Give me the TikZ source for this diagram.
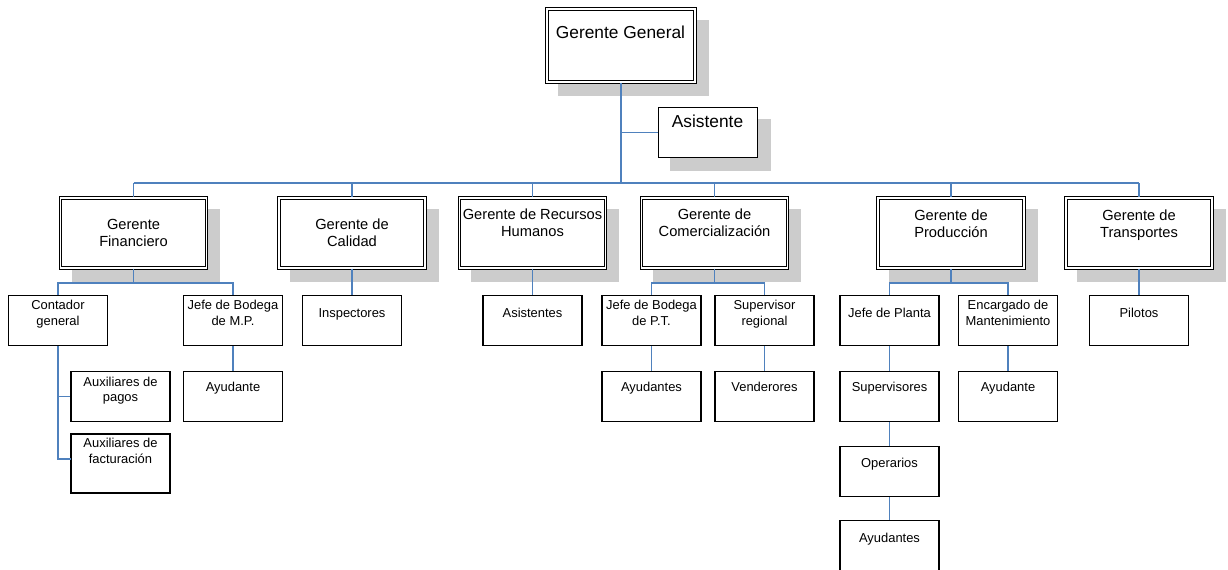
\documentclass[tikz,border=0pt]{standalone}
\usepackage{fontspec}
\setmainfont{Liberation Sans}
\usetikzlibrary{calc,backgrounds}
\definecolor{conn}{RGB}{79,129,189}
\definecolor{shad}{RGB}{204,204,204}
\begin{document}
\begin{tikzpicture}[x=0.75pt,y=-0.75pt,
  dbl/.style={draw, fill=white, line width=0.8pt, double=white, double distance=1.2pt, inner sep=0pt},
  mgr/.style={dbl, minimum width=109.5pt, minimum height=52.7pt},
  box/.style={draw, fill=white, line width=0.85pt, inner sep=0pt, minimum width=74.25pt, minimum height=37.5pt},
  lnk/.style={draw=conn, line width=1pt},
  tm/.style={font=\fontsize{11}{12.75}\selectfont, align=center, inner sep=0pt, anchor=north},
  ts/.style={font=\fontsize{9.7}{12}\selectfont, align=center, inner sep=0pt, anchor=north},
  tg/.style={font=\fontsize{13}{15}\selectfont, inner sep=0pt, anchor=north}]
\useasboundingbox (0,0) rectangle (1228,569);

% top
\node[dbl, minimum width=111.2pt, minimum height=55pt] (gg) at (621,45.5) {};
\node[box] (as) at (708,132.5) {};
% managers
\node[mgr] (gf) at (133.5,233) {};
\node[mgr] (gc) at (352,233) {};
\node[mgr] (grh) at (532.5,233) {};
\node[mgr] (gcom) at (714.5,233) {};
\node[mgr] (gp) at (951,233) {};
\node[mgr] (gt) at (1139,233) {};
% level 3
\node[box] (cont) at (58,320.5) {};
\node[box] (jmp) at (233,320.5) {};
\node[box] (insp) at (352,320.5) {};
\node[box] (asis) at (532.5,320.5) {};
\node[box] (jpt) at (651.5,320.5) {};
\node[box] (supreg) at (764.5,320.5) {};
\node[box] (jpl) at (889.5,320.5) {};
\node[box] (enc) at (1008,320.5) {};
\node[box] (pil) at (1139,320.5) {};
% level 4
\node[box] (auxp) at (120.5,396.5) {};
\node[box] (ayu1) at (233,396.5) {};
\node[box] (ayu2) at (651.5,396.5) {};
\node[box] (vend) at (764.5,396.5) {};
\node[box] (sup) at (889.5,396.5) {};
\node[box] (ayu3) at (1008,396.5) {};
% level 5+
\node[box, minimum height=44.25pt] (auxf) at (120.5,463.5) {};
\node[box] (oper) at (889.5,471.5) {};
\node[box] (ayu4) at (889.5,545.5) {};

% shadows
\begin{scope}[on background layer]
\foreach \n in {gg,as,gf,gc,grh,gcom,gp,gt}
  \fill[shad] ($(\n.north west)+(12,12)$) rectangle ($(\n.south east)+(13,13)$);
\end{scope}

% texts
\node[tg] (gg-t) at (620.5,26) {Gerente General};
\node[tg] (as-t) at (707.5,115) {Asistente};
\node[tm] (gf-t) at (133.5,219) {Gerente\\Financiero};
\node[tm] (gc-t) at (352,219) {Gerente de\\Calidad};
\node[tm] (grh-t) at (532.5,209) {Gerente de Recursos\\Humanos};
\node[tm] (gcom-t) at (714.5,209) {Gerente de\\Comercialización};
\node[tm] (gp-t) at (951,210) {Gerente de\\Producción};
\node[tm] (gt-t) at (1139,210) {Gerente de\\Transportes};

\node[ts] (cont-t) at (58,300) {Contador\\general};
\node[ts] (jmp-t) at (233,300) {Jefe de Bodega\\de M.P.};
\node[ts] (insp-t) at (352,308) {Inspectores};
\node[ts] (asis-t) at (532.5,308) {Asistentes};
\node[ts] (jpt-t) at (651.5,300) {Jefe de Bodega\\de P.T.};
\node[ts] (supreg-t) at (764.5,300) {Supervisor\\regional};
\node[ts] (jpl-t) at (889.5,308) {Jefe de Planta};
\node[ts] (enc-t) at (1008,300) {Encargado de\\Mantenimiento};
\node[ts] (pil-t) at (1139,308) {Pilotos};
\node[ts, font=\fontsize{9.7}{11.25}\selectfont] (auxp-t) at (120.5,377) {Auxiliares de\\pagos};
\node[ts] (ayu1-t) at (233,382) {Ayudante};
\node[ts] (ayu2-t) at (651.5,382) {Ayudantes};
\node[ts] (vend-t) at (764.5,382) {Venderores};
\node[ts] (sup-t) at (889.5,382) {Supervisores};
\node[ts] (ayu3-t) at (1008,382) {Ayudante};
\node[ts] (auxf-t) at (120.5,438) {Auxiliares de\\facturación};
\node[ts] (oper-t) at (889.5,458) {Operarios};
\node[ts] (ayu4-t) at (889.5,533) {Ayudantes};

% connectors
\coordinate (bus) at (621,183);
\coordinate (gfb) at (133.5,283);
\coordinate (gcb) at (714.5,283);
\coordinate (gpb) at (951,283);
\coordinate (auxfj) at (71,459);
\draw[lnk] (gg.south) -- (bus);
\draw[lnk] (gg.south |- as.west) -- (as.west);
\draw[lnk] (gf.north |- bus) -- (gt.north |- bus);
\foreach \m in {gf,gc,grh,gcom,gp,gt}
  \draw[lnk] (\m.north |- bus) -- (\m.north);
\draw[lnk] (gf.south) -- (gfb);
\draw[lnk] (cont.north) |- (gfb) -| (jmp.north);
\draw[lnk] (gcom.south) -- (gcb);
\draw[lnk] (jpt.north) |- (gcb) -| (supreg.north);
\draw[lnk] (gp.south) -- (gpb);
\draw[lnk] (jpl.north) |- (gpb) -| (enc.north);
\draw[lnk] (gc.south) -- (insp.north);
\draw[lnk] (grh.south) -- (asis.north);
\draw[lnk] (gt.south) -- (pil.north);
\draw[lnk] (cont.south) |- (auxfj);
\draw[lnk] (cont.south |- auxp.west) -- (auxp.west);
\draw[lnk] (jmp.south) -- (ayu1.north);
\draw[lnk] (jpt.south) -- (ayu2.north);
\draw[lnk] (supreg.south) -- (vend.north);
\draw[lnk] (jpl.south) -- (sup.north);
\draw[lnk] (sup.south) -- (oper.north);
\draw[lnk] (oper.south) -- (ayu4.north);
\draw[lnk] (enc.south) -- (ayu3.north);
\end{tikzpicture}
\end{document}
